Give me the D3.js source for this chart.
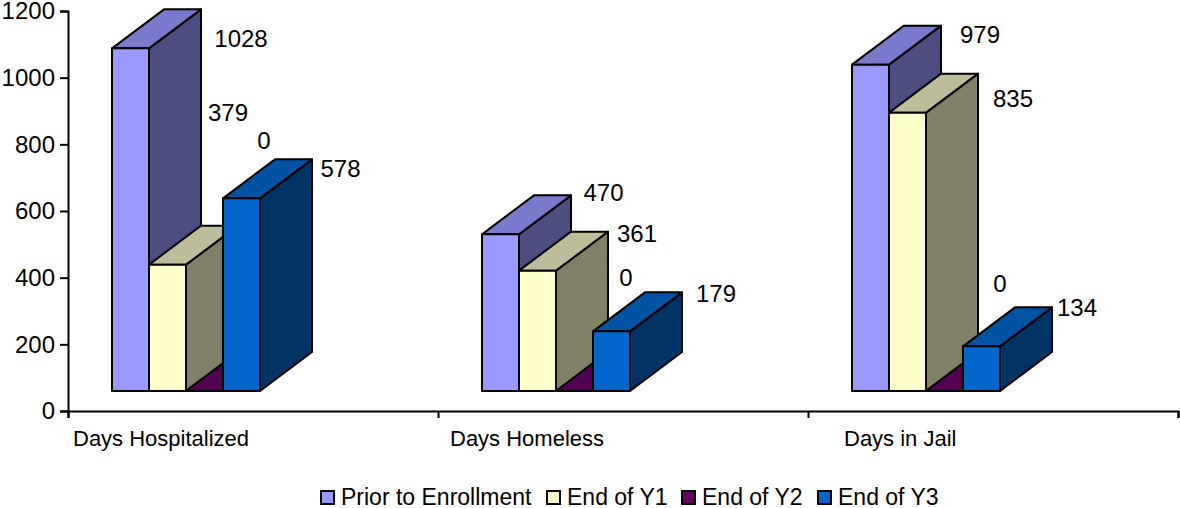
<!DOCTYPE html>
<html><head><meta charset="utf-8">
<script src="https://cdn.jsdelivr.net/npm/d3@7/dist/d3.min.js"></script>
<style>html,body{margin:0;padding:0;background:#fff}svg{display:block}text{font-family:"Liberation Sans",Arial,sans-serif;fill:#000}</style>
</head><body><svg id="c" width="1180" height="508"></svg>
<script>
const categories = ["Days Hospitalized","Days Homeless","Days in Jail"];
const seriesNames = ["Prior to Enrollment","End of Y1","End of Y2","End of Y3"];
const priorToEnrollment = [1028,470,979];
const endOfY1 = [379,361,835];
const endOfY2 = [0,0,0];
const endOfY3 = [578,179,134];
const yTicks = [0,200,400,600,800,1000,1200];

const seriesValues = [priorToEnrollment,endOfY1,endOfY2,endOfY3];
const frontColors = ["#9999FF","#FFFFCC","#660066","#0066CC"];
const topColors = ["#7A7ACC","#BDBD9C","#520052","#0052A3"];
const sideColors = ["#4D4D80","#808066","#330033","#003366"];
const depthX = 52, depthY = 39, lift = 20;

const svg = d3.select("#c");
const y = d3.scaleLinear().domain([0,1200]).range([411,11]);
const xCat = d3.scaleBand().domain(categories).range([68,1178]);
const xSer = d3.scaleBand().domain(seriesNames).range([44,192]);

// label centre offsets from each bar's rear-top-right corner [dx,dy]
const labelOffsets = [
 [[40,29],[-10,-113],[-11,-212],[28.5,9]],
 [[32.5,-3],[29,2],[-19,-75],[34,1]],
 [[39,9],[35,25],[-15,-69],[25,0]]
];
const catLabelOffsets = [5,12,36];

const barsG = svg.append("g");
categories.forEach((cat,c)=>{
  seriesNames.forEach((name,s)=>{
    const v = seriesValues[s][c];
    const x0 = xCat(cat)+xSer(name), x1 = x0+xSer.bandwidth();
    const yb = y(0)-lift, yt = y(v)-lift;
    const g = barsG.append("g").attr("stroke","#000").attr("stroke-width",2).attr("stroke-linejoin","round");
    const poly = (pts,f)=>g.append("polygon").attr("points",pts.map(p=>p.join(",")).join(" ")).attr("fill",f);
    poly([[x1,yb],[x1+depthX,yb-depthY],[x1+depthX,yt-depthY],[x1,yt]],sideColors[s]);
    poly([[x0,yt],[x1,yt],[x1+depthX,yt-depthY],[x0+depthX,yt-depthY]],topColors[s]);
    poly([[x0,yb],[x1,yb],[x1,yt],[x0,yt]],frontColors[s]);
  });
});
categories.forEach((cat,c)=>{
  seriesNames.forEach((name,s)=>{
    const v = seriesValues[s][c];
    const x1 = xCat(cat)+xSer(name)+xSer.bandwidth();
    const o = labelOffsets[c][s];
    svg.append("text").attr("x",x1+depthX+o[0]).attr("y",y(v)-lift-depthY+o[1])
      .attr("text-anchor","middle").attr("dominant-baseline","central")
      .attr("font-size",24).text(v);
  });
});

const yAxis = svg.append("g").attr("transform","translate(68,0)")
  .call(d3.axisLeft(y).tickValues(yTicks).tickSize(8).tickPadding(5).tickFormat(d3.format("d")));
const xEdges = d3.scaleLinear().domain([0,3]).range([68,1178]);
const xAxis = svg.append("g").attr("transform","translate(0,411)")
  .call(d3.axisBottom(xEdges).tickValues([0,1,2,3]).tickSize(7).tickFormat(""));
[yAxis,xAxis].forEach(a=>{
  a.selectAll("path").attr("stroke","#000").attr("stroke-width",2);
  a.selectAll("line").attr("stroke","#000").attr("stroke-width",2);
});
yAxis.selectAll("text").attr("font-size",24).attr("dy","0.33em").attr("font-family",'"Liberation Sans",Arial,sans-serif').attr("fill","#000");

categories.forEach((cat,c)=>{
  svg.append("text").attr("x",xCat(cat)+catLabelOffsets[c]).attr("y",438)
    .attr("dominant-baseline","central").attr("font-size",22).text(cat);
});

const legendX = d3.scaleOrdinal().domain(seriesNames).range([320,546,681,817]);
seriesNames.forEach((name,s)=>{
  const lx = legendX(name);
  svg.append("rect").attr("x",lx+1).attr("y",491).attr("width",13).attr("height",13)
    .attr("fill",frontColors[s]).attr("stroke","#000").attr("stroke-width",2);
  svg.append("text").attr("x",lx+21).attr("y",497).attr("dominant-baseline","central")
    .attr("font-size",23).text(name);
});
</script></body></html>
